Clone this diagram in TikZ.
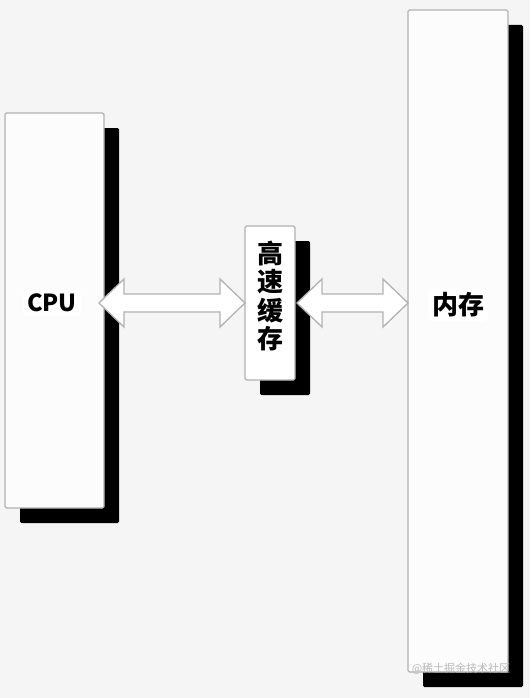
\documentclass[tikz,border=0pt]{standalone}
\usepackage{fontspec}
\newfontfamily\cjk{Noto Sans CJK SC}
\usetikzlibrary{calc,shadows}

% wide two-headed arrow between two tips on one horizontal line
\newcommand\biarrow[2]{%
  \draw[bus] (#1) -- ++(25,-24) -- ++(0,15) -- ($(#2)+(-25,-9)$) -- ++(0,-15)
    -- (#2) -- ++(-25,24) -- ++(0,-15) -- ($(#1)+(25,9)$) -- ++(0,15) -- cycle;}

\begin{document}
\begin{tikzpicture}[
  x=1pt, y=-1pt,
  unit/.style={draw=gray!60, line width=1.4pt, fill=gray!2, rounded corners=1.5pt,
               inner sep=0pt, outer sep=0pt,
               general shadow={fill=black, sharp corners, shadow xshift=15pt, shadow yshift=-15pt}},
  tag/.style={fill=white, rounded corners=5pt, inner sep=4pt, font=\cjk\bfseries},
  bus/.style={draw=gray!60, line width=1.3pt, fill=white, line join=miter}
]
  \fill[gray!8] (0,0) rectangle (530,698);
  \useasboundingbox (0,0) rectangle (530,698);

  \node[unit, minimum width=99pt, minimum height=395pt] (cpu) at (54.5,310.5) {};
  \node[unit, minimum width=50pt, minimum height=154pt, fill=white] (cache) at (270,303) {};
  \node[unit, minimum width=100pt, minimum height=662pt] (mem) at (458,341) {};

  \coordinate (cpuport) at ($(cpu.east |- cache.west)+(-5,0)$);
  \coordinate (cacheport) at ($(cache.east)+(2,0)$);
  \biarrow{cpuport}{cache.west}
  \biarrow{cacheport}{mem.west |- cache.east}

  \node[align=center, inner sep=0pt, font=\cjk\bfseries\fontsize{26}{28.3}\selectfont]
    (cachetxt) at (270,296) {高\\速\\缓\\存};
  \node[tag, font=\cjk\bfseries\fontsize{23.5}{27}\selectfont] (cputxt) at (52,303) {CPU};
  \node[tag, font=\cjk\bfseries\fontsize{26}{30}\selectfont] (memtxt) at (458,305) {内存};
  \node[text=gray!55, font=\cjk\fontsize{11}{13}\selectfont] (mark) at (461,669) {@稀土掘金技术社区};
\end{tikzpicture}
\end{document}
